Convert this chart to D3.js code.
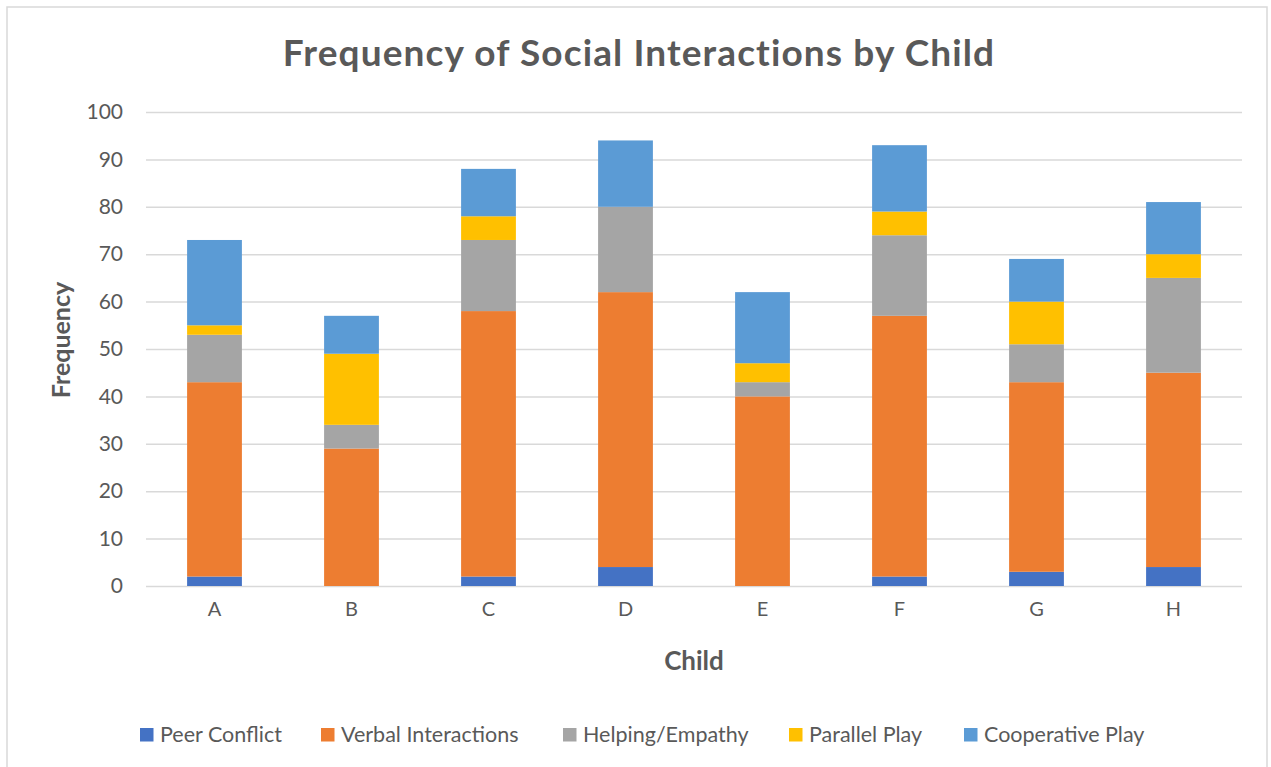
<!DOCTYPE html>
<html>
<head>
<meta charset="utf-8">
<script src="https://cdn.jsdelivr.net/npm/d3@7"></script>
<style>
  html, body { margin: 0; padding: 0; background: #fff; }
  svg { display: block; font-family: Lato, "Open Sans", sans-serif; }
</style>
</head>
<body>
<svg id="chart" width="1271" height="767"></svg>
<script>
const categories = ["A", "B", "C", "D", "E", "F", "G", "H"];
const seriesNames = ["Peer Conflict", "Verbal Interactions", "Helping/Empathy", "Parallel Play", "Cooperative Play"];
const peerConflict       = [2, 0, 2, 4, 0, 2, 3, 4];
const verbalInteractions = [41, 29, 56, 58, 40, 55, 40, 41];
const helpingEmpathy     = [10, 5, 15, 18, 3, 17, 8, 20];
const parallelPlay       = [2, 15, 5, 0, 4, 5, 9, 5];
const cooperativePlay    = [18, 8, 10, 14, 15, 14, 9, 11];
const yTicks = [0, 10, 20, 30, 40, 50, 60, 70, 80, 90, 100];
const colors = ["#4472C4", "#ED7D31", "#A5A5A5", "#FFC000", "#5B9BD5"];

const seriesValues = [peerConflict, verbalInteractions, helpingEmpathy, parallelPlay, cooperativePlay];
const rows = categories.map((c, i) => {
  const r = { child: c };
  seriesNames.forEach((s, j) => r[s] = seriesValues[j][i]);
  return r;
});

const svg = d3.select("#chart");
const textColor = "#595959";
const gridColor = "#D9D9D9";

// outer chart border
svg.append("rect").attr("x", 7).attr("y", 7).attr("width", 1260).attr("height", 780)
  .attr("fill", "none").attr("stroke", gridColor).attr("stroke-width", 1.5);

const x = d3.scaleBand().domain(categories).range([146, 1242]).paddingInner(0.6).paddingOuter(0.3);
const y = d3.scaleLinear().domain([0, 100]).range([586, 112]);

// gridlines + y axis labels
const yAxis = d3.axisLeft(y).tickValues(yTicks).tickSize(-(1242 - 146)).tickPadding(23);
const gy = svg.append("g").attr("transform", "translate(146,0)").call(yAxis);
gy.select(".domain").remove();
gy.selectAll(".tick line").attr("stroke", gridColor).attr("stroke-width", 1.5);
gy.selectAll(".tick text").attr("fill", textColor).style("font-size", "21px").style("font-family", "Lato");

// stacked bars
const stack = d3.stack().keys(seriesNames);
const stacked = stack(rows);
svg.append("g").selectAll("g").data(stacked).join("g")
  .attr("fill", (d, i) => colors[i])
  .selectAll("rect").data(d => d).join("rect")
  .attr("x", d => x(d.data.child))
  .attr("width", x.bandwidth())
  .attr("y", d => y(d[1]))
  .attr("height", d => y(d[0]) - y(d[1]));

// x axis
const xAxis = d3.axisBottom(x).tickSize(0).tickPadding(16);
const gx = svg.append("g").attr("transform", "translate(0,586)").call(xAxis);
gx.select(".domain").remove();
gx.selectAll(".tick text").attr("fill", textColor).style("font-size", "20px").style("font-family", "Lato");

// title
const title = svg.append("text").attr("x", 639).attr("y", 65.5).attr("text-anchor", "middle")
  .attr("fill", textColor).style("font-weight", "bold").style("font-size", "37px")
  .text("Frequency of Social Interactions by Child");
const tLen = title.node().getComputedTextLength();
const tStr = title.text();
title.style("letter-spacing", ((712 - tLen) / (tStr.length - 1)) + "px");

// axis titles
svg.append("text").attr("x", 694).attr("y", 670).attr("text-anchor", "middle")
  .attr("fill", textColor).style("font-weight", "bold").style("font-size", "26px")
  .text("Child");
svg.append("text").attr("transform", "translate(70,340) rotate(-90)").attr("text-anchor", "middle")
  .attr("fill", textColor).style("font-weight", "bold").style("font-size", "25px")
  .text("Frequency");

// legend
const legendX = [140, 321, 563, 789, 964];
const lg = svg.append("g").selectAll("g").data(seriesNames).join("g")
  .attr("transform", (d, i) => `translate(${legendX[i]},728)`);
lg.append("rect").attr("width", 13.5).attr("height", 13.5).attr("fill", (d, i) => colors[i]);
lg.append("text").attr("x", 20).attr("y", 14).attr("fill", textColor)
  .style("font-size", "21.5px").text(d => d);
</script>
</body>
</html>
